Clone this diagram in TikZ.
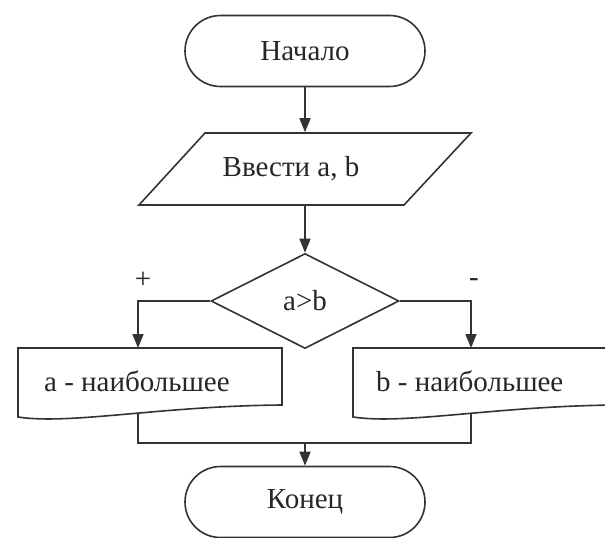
\documentclass[tikz,border=0pt]{standalone}
\usepackage{fontspec}
\setmainfont{Liberation Serif}
\usetikzlibrary{shapes.geometric,shapes.misc,arrows.meta,calc}
\begin{document}
\begin{tikzpicture}[x=1pt,y=-1pt,line width=1.6pt,color=black!80,
  term/.style={rounded rectangle, draw, minimum width=240pt, minimum height=71pt, inner sep=0pt},
  txt/.style={font=\fontsize{29}{34}\selectfont, text=black!85},
  arr/.style={-{Triangle[width=11pt,length=14pt]}},
  decision/.style={diamond, draw, minimum width=188pt, minimum height=95pt, inner sep=0pt, aspect=2},
  outline/.style={draw, line join=miter}]
\useasboundingbox (0,0) rectangle (605,538);
\clip (0,0) rectangle (605,538);
% shapes
\node[term, txt] (start) at (305,51) {Начало};
\node[txt, minimum height=72pt, inner sep=0pt] (input) at (291,169) {Ввести a, b};
\draw[outline] (205,133) -- (471,133) -- (404,205) -- (139,205) -- cycle;
\node[decision, txt] (dec) at (305,301) {a>b};
\draw[outline] (18,348) -- (282,348) -- (282,405) .. controls (160,406) and (70,425) .. (18,417) -- cycle;
\draw[outline] (353,348) -- (617,348) -- (617,405) .. controls (495,406) and (405,425) .. (353,417) -- cycle;
\node[txt, anchor=west] (ltext) at (40,381) {a - наибольшее};
\node[txt, anchor=west] (rtext) at (372,381) {b - наибольшее};
\node[term, txt] (end) at (305,502) {Конец};
\node[txt] (plus) at (143,280) {+};
\node[txt] (minus) at (474,283) {-};
% coordinates
\coordinate (ltop) at (138,348);
\coordinate (rtop) at (471,348);
\coordinate (lbot) at (138,414);
\coordinate (rbot) at (471,414);
\coordinate (merge) at (305,443);
% connectors
\draw[arr] (start.south) -- (start.south |- input.north);
\draw[arr] (start.south |- input.south) -- (dec.north);
\draw[arr] (dec.west) -| (ltop);
\draw[arr] (dec.east) -| (rtop);
\draw (lbot) |- (merge) -| (rbot);
\draw[arr] (merge) -- (end.north);
\end{tikzpicture}
\end{document}
